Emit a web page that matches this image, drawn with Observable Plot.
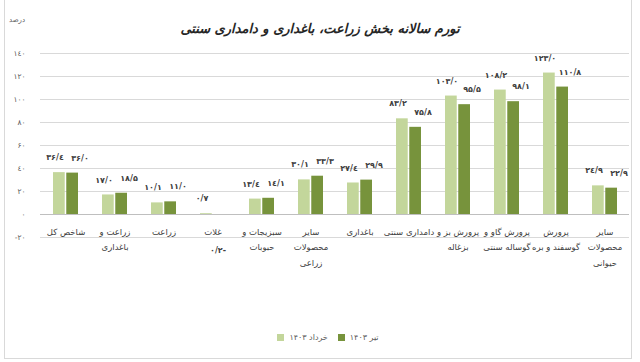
<!DOCTYPE html>
<html><head><meta charset="utf-8">
<script src="https://cdn.jsdelivr.net/npm/d3@7"></script>
<script src="https://cdn.jsdelivr.net/npm/@observablehq/plot@0.6"></script>
<style>
body{margin:0;background:#fff;font-family:"DejaVu Sans",sans-serif;}
#wrap{position:relative;width:640px;height:362px;overflow:hidden;background:#fff;}
#frame{position:absolute;left:4px;top:-2px;width:628px;height:361px;border:1px solid #d9d9d9;box-sizing:border-box;}
#title{position:absolute;top:21px;left:0;width:640px;text-align:center;font-weight:bold;font-style:italic;font-size:13px;color:#262626;}
#unit{position:absolute;top:16px;left:9px;font-size:7px;color:#595959;}
#chart{position:absolute;top:0;left:0;}
#legend{position:absolute;top:333px;left:8px;width:640px;display:flex;justify-content:center;align-items:center;font-size:8px;color:#595959;}
.sw{display:inline-block;width:7px;height:7px;margin-right:5px;}
.it{display:flex;align-items:center;margin:0 5px;}
</style></head>
<body>
<div id="wrap">
<div id="frame"></div>
<div id="chart"></div>
<div id="title">تورم سالانه بخش زراعت، باغداری و دامداری سنتی</div>
<div id="unit">درصد</div>
<div id="legend"></div>
</div>
<script>
const categories = ["شاخص کل","زراعت و باغداری","زراعت","غلات","سبزیجات و حبوبات","سایر محصولات زراعی","باغداری","دامداری سنتی","پرورش بز و بزغاله","پرورش گاو و گوساله سنتی","پرورش گوسفند و بره","سایر محصولات حیوانی"];
const categoryLabels = ["شاخص کل","زراعت و\nباغداری","زراعت","غلات","سبزیجات و\nحبوبات","سایر\nمحصولات\nزراعی","باغداری","دامداری سنتی","پرورش بز و\nبزغاله","پرورش گاو و\nگوساله سنتی","پرورش\nگوسفند و بره","سایر\nمحصولات\nحیوانی"];
const khordad1403 = [36.4, 17.0, 10.1, 0.7, 13.4, 30.1, 27.4, 83.2, 103.0, 108.2, 123.0, 24.9];
const tir1403 = [36.0, 18.5, 11.0, -0.2, 14.1, 33.3, 29.9, 75.8, 95.5, 98.1, 110.8, 22.9];
const seriesNames = ["خرداد ۱۴۰۳", "تیر ۱۴۰۳"];
const seriesColors = ["#c3d69b", "#77933c"];
const yTicks = [-20, 0, 20, 40, 60, 80, 100, 120, 140];

const fa = s => String(s).replace(/\d/g, d => "۰۱۲۳٤۵۶۷۸۹"[d]).replace(".", "/");
const fmtLabel = v => v < 0 ? fa(Math.abs(v).toFixed(1)) + "-" : fa(v.toFixed(1));
const fmtTick = v => v < 0 ? "-" + fa(-v) : fa(v);

const data = categories.map((c, i) => ({c, label: categoryLabels[i], k: khordad1403[i], t: tir1403[i]}));

const W = 640, H = 290;
const step = (W - 40 - 11) / 12;
const half = step * 0.5 / 2;

const chart = Plot.plot({
  width: W, height: H,
  marginLeft: 40, marginRight: 11, marginTop: 53, marginBottom: 53,
  style: {fontFamily: "DejaVu Sans, sans-serif", background: "transparent"},
  x: {domain: categories, paddingInner: 0.5, paddingOuter: 0.25, axis: null},
  y: {domain: [-20, 140], axis: null},
  marks: [
    Plot.ruleY(yTicks.filter(t => t !== 0), {stroke: "#d9d9d9", strokeWidth: 1}),
    Plot.barY(data, {x: "c", y: "k", fill: seriesColors[0], insetRight: half + 1}),
    Plot.barY(data, {x: "c", y: "t", fill: seriesColors[1], insetLeft: half + 1}),
    Plot.ruleY([0], {stroke: "#bfbfbf", strokeWidth: 1}),
    Plot.axisY({ticks: yTicks, tickFormat: fmtTick, tickSize: 0, tickPadding: 15, fontSize: 7.5, fill: "#595959", label: null}),
    Plot.text(data, {x: "c", y: "k", text: d => fmtLabel(d.k), dx: -11, dy: -15, fontSize: 8, fontWeight: "bold", fill: "#404040"}),
    Plot.text(data.filter(d => d.t >= 0), {x: "c", y: "t", text: d => fmtLabel(d.t), dx: 14, dy: -15, fontSize: 8, fontWeight: "bold", fill: "#404040"}),
    Plot.text(data.filter(d => d.t < 0), {x: "c", y: 0, text: d => fmtLabel(d.t), dx: 5, dy: 36, fontSize: 8, fontWeight: "bold", fill: "#404040"}),
    Plot.text(data, {x: "c", y: 0, text: "label", lineAnchor: "top", dy: 9, lineHeight: 1.85, fontSize: 8.5, fill: "#404040"})
  ]
});
document.getElementById("chart").appendChild(chart);

const legend = document.getElementById("legend");
seriesNames.forEach((n, i) => {
  const it = document.createElement("div");
  it.className = "it";
  it.innerHTML = `<span class="sw" style="background:${seriesColors[i]}"></span><span>${n}</span>`;
  legend.appendChild(it);
});
</script>
</body></html>
